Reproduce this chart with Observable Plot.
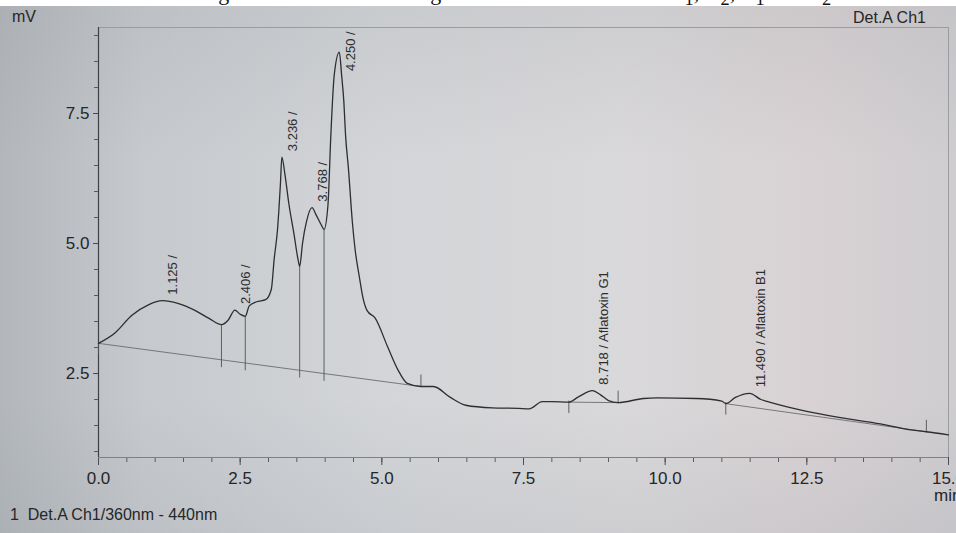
<!DOCTYPE html>
<html>
<head>
<meta charset="utf-8">
<script src="https://cdn.jsdelivr.net/npm/d3@7"></script>
<script src="https://cdn.jsdelivr.net/npm/@observablehq/plot@0.6"></script>
<style>
html,body{margin:0;padding:0;}
body{width:956px;height:533px;overflow:hidden;position:relative;font-family:"Liberation Sans",Arial,sans-serif;color:#222;
background:linear-gradient(to right,#b3b7bb 0%,#c6c9cd 15%,#d3d5d8 40%,#d9d8da 65%,#d8d2d4 85%,#cfcdd0 100%);}
#shade{position:absolute;left:0;top:0;width:956px;height:533px;background:linear-gradient(to bottom,rgba(120,125,130,0.12) 0%,rgba(255,255,255,0) 30%,rgba(255,255,255,0) 75%,rgba(110,120,130,0.10) 100%);}
#strip{position:absolute;left:0;top:0;width:956px;height:6px;background:#fff;overflow:hidden;z-index:3}
#strip span{position:absolute;top:-20px;left:200px;font:22px "Liberation Serif",serif;white-space:nowrap;color:#111}
#chart{position:absolute;left:0;top:0;z-index:1}
.lab{position:absolute;white-space:nowrap;z-index:2;color:#262626}
</style>
</head>
<body>
<div id="shade"></div>
<div id="strip"><span>Figure 2: HPLC chromatogram of standard aflatoxin G<sub>1</sub>, G<sub>2</sub>, B<sub>1</sub> and B<sub>2</sub></span></div>
<div id="chart"></div>
<div class="lab" style="left:12px;top:8px;font-size:16px">mV</div>
<div class="lab" style="left:853px;top:9px;font-size:16px">Det.A Ch1</div>
<div class="lab" style="left:10px;top:506px;font-size:16px">1&nbsp;&nbsp;Det.A Ch1/360nm - 440nm</div>
<div class="lab" style="left:934px;top:486px;font-size:17px">min</div>
<script>
// Retention time (min) and signal (mV)
const times = [0, 0.29, 0.59, 0.88, 1.125, 1.40, 1.71, 1.95, 2.17, 2.29, 2.406, 2.50, 2.59, 2.66, 2.79, 2.95,
  3.05, 3.10, 3.16, 3.21, 3.236, 3.29, 3.36, 3.45, 3.52, 3.55, 3.60, 3.67, 3.768, 3.84, 3.93, 3.98,
  4.05, 4.10, 4.16, 4.25, 4.29, 4.33, 4.36, 4.41, 4.48, 4.53, 4.60, 4.67, 4.74, 4.88, 5.10, 5.28, 5.45,
  5.69, 5.91, 6.21, 6.48, 6.95, 7.41, 7.60, 7.83, 8.00, 8.30, 8.47, 8.718, 8.86, 9.00, 9.17, 9.62, 9.86,
  10.55, 11.00, 11.07, 11.24, 11.49, 11.69, 11.81, 12.38, 13.09, 13.80, 14.30, 14.61, 15.00];
const signal = [3.08, 3.28, 3.62, 3.82, 3.90, 3.85, 3.71, 3.56, 3.44, 3.53, 3.72, 3.64, 3.60, 3.80, 3.88, 3.92,
  4.12, 4.70, 5.28, 6.14, 6.66, 6.33, 5.76, 5.18, 4.70, 4.56, 5.00, 5.42, 5.69, 5.55, 5.36, 5.27,
  5.75, 7.08, 8.24, 8.68, 8.24, 7.72, 7.08, 6.45, 5.41, 4.87, 4.38, 3.94, 3.71, 3.57, 3.02, 2.58, 2.31,
  2.25, 2.25, 2.04, 1.89, 1.84, 1.83, 1.82, 1.96, 1.96, 1.95, 2.05, 2.17, 2.09, 1.98, 1.94, 2.02, 2.03,
  2.02, 1.97, 1.92, 2.04, 2.12, 2.00, 1.96, 1.80, 1.65, 1.53, 1.42, 1.38, 1.32];

// Peak annotations
const peakTimes = [1.125, 2.406, 3.236, 3.768, 4.250, 8.718, 11.490];
const peakLabels = ["1.125 /", "2.406 /", "3.236 /", "3.768 /", "4.250 /", "8.718 / Aflatoxin G1", "11.490 / Aflatoxin B1"];

// Integration baseline segments (start, end times)
const baseStarts = [0, 8.30, 11.07];
const baseEnds = [5.69, 9.17, 14.61];
// Peak separation drop lines
const dropTimes = [2.17, 2.59, 3.55, 3.98];

// Axis ticks
const xMajor = [0, 2.5, 5, 7.5, 10, 12.5, 15];
const xMinor = d3.range(0, 15.001, 0.5);
const yMajor = [2.5, 5.0, 7.5];
const yMinor = d3.range(1.0, 9.001, 0.5);
const yDomain = [0.885, 9.154];

const curve = times.map((t, i) => ({t, v: signal[i]}));
const bis = d3.bisector(d => d.t).left;
function interp(t) {
  let i = bis(curve, t);
  if (i <= 0) return curve[0].v;
  if (i >= curve.length) return curve[curve.length - 1].v;
  const a = curve[i - 1], b = curve[i];
  return a.v + (b.v - a.v) * (t - a.t) / (b.t - a.t);
}
const baseline = [];
baseStarts.forEach((s, k) => {
  baseline.push({seg: k, t: s, v: interp(s)});
  baseline.push({seg: k, t: baseEnds[k], v: interp(baseEnds[k])});
});
function baseAt(t) {
  for (let k = 0; k < baseStarts.length; k++) {
    const s = baseStarts[k], e = baseEnds[k];
    if (t >= s && t <= e) {
      const vs = interp(s), ve = interp(e);
      return vs + (ve - vs) * (t - s) / (e - s);
    }
  }
  return interp(t);
}
const drops = dropTimes.map(t => ({t, b: baseAt(t), c: interp(t)}));
const startTicks = baseStarts.map(t => ({t, b: interp(t)}));
const endTicks = baseEnds.map(t => ({t, b: interp(t)}));
const peaks = peakTimes.map((t, i) => ({t, label: peakLabels[i], ly: Math.min(interp(t), 8.2)}));

const chart = Plot.plot({
  width: 956,
  height: 533,
  marginLeft: 98,
  marginRight: 8,
  marginTop: 27,
  marginBottom: 76,
  x: {domain: [0, 15], label: null},
  y: {domain: yDomain, label: null},
  style: {background: "transparent", fontFamily: "Liberation Sans, Arial, sans-serif", fontSize: "17px", color: "#262626", overflow: "visible"},
  marks: [
    Plot.frame({stroke: "#9a9da0", strokeWidth: 1}),
    Plot.axisX(xMinor, {tickSize: 5, tickFormat: () => "", stroke: "#5a5d60"}),
    Plot.axisX(xMajor, {tickSize: 8, tickPadding: 6, tickFormat: d3.format(".1f"), fontSize: 17, stroke: "#4a4d50", fill: "#262626"}),
    Plot.axisY(yMinor, {tickSize: 4, tickFormat: () => "", stroke: "#5a5d60"}),
    Plot.axisY(yMajor, {tickSize: 5, tickPadding: 4, tickFormat: d3.format(".1f"), fontSize: 17, stroke: "#4a4d50", fill: "#262626"}),
    Plot.ruleX([0], {stroke: "#3e4145", strokeWidth: 1.2}),
    Plot.ruleY([yDomain[0]], {stroke: "#7d8084", strokeWidth: 1}),
    Plot.line(baseline, {x: "t", y: "v", z: "seg", stroke: "#6a6d71", strokeWidth: 0.9}),
    Plot.ruleX(drops, {x: "t", y1: d => d.b - 0.15, y2: "c", stroke: "#505357", strokeWidth: 0.9}),
    Plot.ruleX(startTicks, {x: "t", y1: d => d.b - 0.22, y2: d => d.b + 0.02, stroke: "#505357", strokeWidth: 0.9}),
    Plot.ruleX(endTicks, {x: "t", y1: d => d.b - 0.02, y2: d => d.b + 0.22, stroke: "#505357", strokeWidth: 0.9}),
    Plot.line(curve, {x: "t", y: "v", curve: "monotone-x", stroke: "#2c2e30", strokeWidth: 1.3}),
    Plot.text(peaks, {x: "t", y: "ly", text: "label", rotate: -90, textAnchor: "start", dx: 11, dy: -6, fontSize: 13, fill: "#2a2c2e"})
  ]
});
document.getElementById("chart").appendChild(chart);
</script>
</body>
</html>
